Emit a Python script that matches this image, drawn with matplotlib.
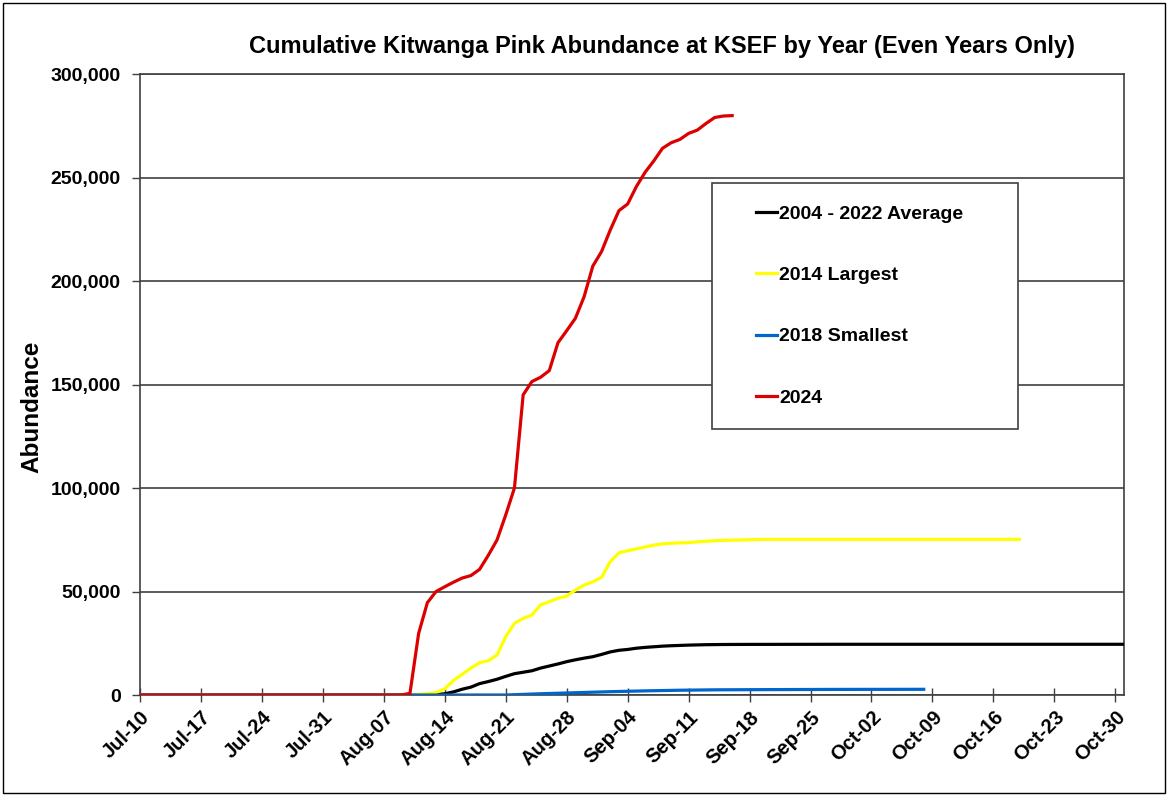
import matplotlib
matplotlib.use('Agg')
import matplotlib.pyplot as plt
from matplotlib.patches import Rectangle
from matplotlib.lines import Line2D
import pandas as pd

plt.rcParams['font.family'] = ['Liberation Sans', 'DejaVu Sans']
plt.rcParams['font.weight'] = 'bold'

START = '2024-07-10'

# Day offsets from Jul-10 and cumulative abundance for each series
avg_days = [0, 33, 34, 35, 36, 37, 38, 39, 40, 41, 42, 43, 44, 45, 46, 47, 48, 49, 50,
            51, 52, 53, 54, 55, 56, 57, 58, 59, 60, 61, 62, 63, 64, 65, 66, 67, 70, 80, 90, 100, 113]
avg_vals = [0, 0, 200, 600, 1500, 2800, 3800, 5500, 6500, 7600, 9000, 10300, 11000, 11700, 13000,
            14000, 15000, 16100, 17000, 17800, 18500, 19600, 20800, 21600, 22000, 22600, 23000,
            23300, 23600, 23800, 23950, 24100, 24200, 24300, 24350, 24400, 24450, 24500, 24500, 24500, 24500]

y2014_days = [0, 31, 32, 33, 34, 35, 36, 37, 38, 39, 40, 41, 42, 43, 44, 45, 46, 47, 48, 49, 50,
              51, 52, 53, 54, 55, 56, 57, 58, 59, 60, 61, 62, 63, 64, 65, 66, 67, 68, 70, 72, 80, 90, 101]
y2014_vals = [0, 0, 300, 600, 1200, 3000, 7000, 10000, 13000, 15600, 16600, 19300, 28200, 34600,
              37000, 38600, 43500, 45100, 46700, 47800, 50700, 53100, 54700, 56800, 64400, 68700,
              69700, 70600, 71500, 72400, 73000, 73300, 73500, 73600, 74000, 74300, 74500, 74700,
              74800, 75000, 75200, 75200, 75200, 75200]

y2018_days = [0, 42, 46, 50, 54, 58, 62, 66, 72, 80, 90]
y2018_vals = [0, 0, 600, 1100, 1600, 2000, 2300, 2500, 2600, 2700, 2750]

y2024_days = [0, 30, 31, 32, 33, 34, 35, 36, 37, 38, 39, 40, 41, 42, 43, 44, 45, 46, 47, 48, 49,
              50, 51, 52, 53, 54, 55, 56, 57, 58, 59, 60, 61, 62, 63, 64, 65, 66, 67, 68]
y2024_vals = [0, 0, 800, 29800, 44600, 50000, 52300, 54500, 56500, 57700, 60700, 67500, 74900,
              87000, 100000, 145000, 151400, 153500, 156700, 170200, 176000, 182000, 192400,
              207200, 214200, 224600, 234000, 237200, 245600, 252500, 258000, 264100, 266800,
              268400, 271300, 272900, 276100, 279000, 279700, 279900]

series_labels = ['2004 - 2022 Average', '2014 Largest', '2018 Smallest', '2024']
series_colors = ['#000000', '#FFFF00', '#0066CC', '#DD0000']

y_ticks = [0, 50000, 100000, 150000, 200000, 250000, 300000]
x_tick_labels = ['Jul-10', 'Jul-17', 'Jul-24', 'Jul-31', 'Aug-07', 'Aug-14', 'Aug-21', 'Aug-28',
                 'Sep-04', 'Sep-11', 'Sep-18', 'Sep-25', 'Oct-02', 'Oct-09', 'Oct-16', 'Oct-23', 'Oct-30']
x_end = 'Oct-31'

title = 'Cumulative Kitwanga Pink Abundance at KSEF by Year (Even Years Only)'
y_label = 'Abundance'


def to_dates(days):
    return pd.Timestamp(START) + pd.to_timedelta(days, unit='D')


def lab_to_date(lab):
    return pd.to_datetime('2024-' + lab, format='%Y-%b-%d')


W, H = 1168, 796
fig = plt.figure(figsize=(W / 100, H / 100), dpi=100)
L, R, T, B = 140, 1124, 74, 695
ax = fig.add_axes([L / W, 1 - B / H, (R - L) / W, (B - T) / H])

series = [(avg_days, avg_vals), (y2014_days, y2014_vals), (y2018_days, y2018_vals), (y2024_days, y2024_vals)]
for (d, v), lab, col in zip(series, series_labels, series_colors):
    ax.plot(to_dates(d), v, color=col, lw=2.3, label=lab, zorder=3, solid_joinstyle='round')

ax.set_ylim(0, 300000)
ax.set_xlim(pd.Timestamp(START), lab_to_date(x_end))
ax.set_yticks(y_ticks)
ax.set_yticklabels([f'{t:,}' for t in y_ticks], fontsize=14, fontweight='bold')
ax.set_xticks([lab_to_date(l) for l in x_tick_labels])
ax.set_xticklabels(x_tick_labels, rotation=45, ha='right', rotation_mode='anchor',
                   fontsize=14.5, fontweight='bold')
ax.tick_params(axis='x', direction='inout', length=10, width=1, color='#404040', pad=4)
ax.tick_params(axis='y', direction='out', length=6, width=1, color='#404040', pad=8)

ax.grid(axis='y', color='#404040', lw=1.2, zorder=1)
ax.grid(axis='x', visible=False)
for s in ax.spines.values():
    s.set_color('#404040')
    s.set_linewidth(1.2)

fig.text(32 / W, 1 - 407 / H, y_label, rotation=90, ha='center', va='center',
         fontsize=17.5, fontweight='bold')
fig.text(662 / W, 1 - 47 / H, title, ha='center', va='center', fontsize=17, fontweight='bold')

# Legend box
bx0, bx1, by0, by1 = 712, 1018, 183, 429
ax.add_patch(Rectangle(((bx0 - L) / (R - L), (B - by1) / (B - T)), (bx1 - bx0) / (R - L),
                       (by1 - by0) / (B - T), transform=ax.transAxes, facecolor='white',
                       edgecolor='#404040', lw=1.2, zorder=5))
handles = [Line2D([], [], color=c, lw=2.3) for c in series_colors]
leg = ax.legend(handles, series_labels, loc='upper left', frameon=False,
                bbox_to_anchor=((756 - L) / (R - L), (B - 205) / (B - T)),
                borderpad=0, borderaxespad=0, handlelength=1.1, handletextpad=0.1,
                labelspacing=2.25, prop={'size': 14, 'weight': 'bold'})
leg.set_zorder(6)

fig.patches.append(Rectangle((3 / W, 3 / H), 1 - 6 / W, 1 - 6 / H, transform=fig.transFigure,
                             fill=False, edgecolor='black', lw=1))

fig.savefig('out.png', dpi=100)
